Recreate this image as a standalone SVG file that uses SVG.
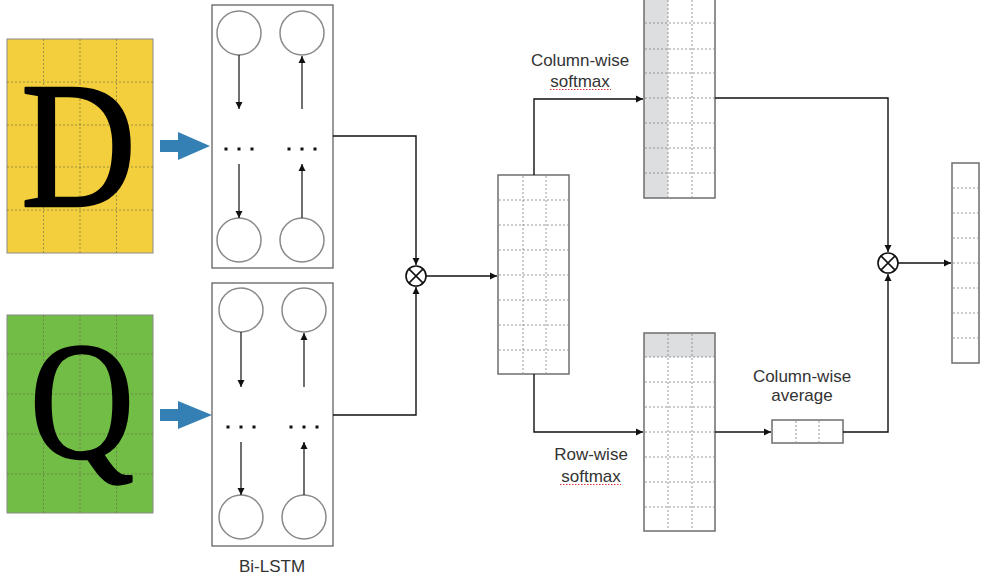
<svg xmlns="http://www.w3.org/2000/svg" width="982" height="581" viewBox="0 0 982 581">
<defs>
<marker id="ah" markerWidth="8" markerHeight="8" refX="7" refY="4" orient="auto" markerUnits="userSpaceOnUse">
<path d="M0,0.5 L7,4 L0,7.5 Z" fill="#111"/>
</marker>
<style>
.conn{fill:none;stroke:#111;stroke-width:1.4}
.mat{fill:#fff;stroke:#6e6e6e;stroke-width:1.5}
.grid{stroke:#8c8c8c;stroke-width:0.9;stroke-dasharray:2 2;fill:none}
.lgrid{stroke:#6a6a4a;stroke-width:0.9;stroke-dasharray:2 2;fill:none;opacity:0.7}
.box{fill:#fff;stroke:#555;stroke-width:1.2}
.cell{fill:#fff;stroke:#8a8a8a;stroke-width:1.5}
.lar{stroke:#222;stroke-width:1.3;fill:none}
.dot{fill:#111}
.lbl{font-family:"Liberation Sans",Arial,sans-serif;font-size:17px;fill:#333;text-anchor:middle}
.big{font-family:"Liberation Serif","Times New Roman",serif;fill:#000;stroke:#000;stroke-width:2.5;stroke-linejoin:round}
.blue{fill:#3480b5}
.ox{fill:#fff;stroke:#111;stroke-width:1.6}
.sq{stroke:#e0303a;stroke-width:1.2;stroke-dasharray:1.5 1.5;fill:none}
</style>
</defs>

<g id="D">
<rect x="7" y="39" width="146" height="214" fill="#f3cf3d" stroke="#8a8a8a" stroke-width="1"/>
<path class="lgrid" d="M43.5,39V253M80,39V253M116.5,39V253M7,82H153M7,125H153M7,167H153M7,210H153"/>
<text class="big" x="21" y="206" font-size="180" textLength="115" lengthAdjust="spacingAndGlyphs">D</text>
</g>
<g id="Q">
<rect x="7" y="315" width="146" height="198" fill="#72bd46" stroke="#8a8a8a" stroke-width="1"/>
<path class="lgrid" d="M43.5,315V513M80,315V513M116.5,315V513M7,354H153M7,394H153M7,434H153M7,474H153"/>
<text class="big" x="30" y="457" font-size="168" textLength="104" lengthAdjust="spacingAndGlyphs">Q</text>
</g>

<g id="arrowD"><polygon class="blue" points="160,140 178,140 178,132 210,146 178,160 178,152 160,152"/></g>
<g id="arrowQ"><polygon class="blue" points="160,409 178,409 178,401 212,415 178,429 178,421 160,421"/></g>

<g id="lstmTop">
<rect class="box" x="212" y="5" width="121" height="263"/>
<circle class="cell" cx="239" cy="33" r="22"/>
<circle class="cell" cx="302" cy="33" r="22"/>
<circle class="cell" cx="239" cy="240" r="22"/>
<circle class="cell" cx="302" cy="240" r="22"/>
<line class="lar" x1="239" y1="55" x2="239" y2="109" marker-end="url(#ah)"/>
<line class="lar" x1="239" y1="164" x2="239" y2="218" marker-end="url(#ah)"/>
<line class="lar" x1="302" y1="109" x2="302" y2="56" marker-end="url(#ah)"/>
<line class="lar" x1="302" y1="218" x2="302" y2="164" marker-end="url(#ah)"/>
<rect class="dot" x="224.5" y="147.5" width="3" height="3"/>
<rect class="dot" x="237.5" y="147.5" width="3" height="3"/>
<rect class="dot" x="250.5" y="147.5" width="3" height="3"/>
<rect class="dot" x="287.5" y="147.5" width="3" height="3"/>
<rect class="dot" x="300.5" y="147.5" width="3" height="3"/>
<rect class="dot" x="313.5" y="147.5" width="3" height="3"/>
</g>

<g id="lstmBottom">
<rect class="box" x="212" y="283" width="121" height="263"/>
<circle class="cell" cx="241" cy="310" r="22"/>
<circle class="cell" cx="304" cy="310" r="22"/>
<circle class="cell" cx="241" cy="517" r="22"/>
<circle class="cell" cx="304" cy="517" r="22"/>
<line class="lar" x1="241" y1="332" x2="241" y2="387" marker-end="url(#ah)"/>
<line class="lar" x1="241" y1="442" x2="241" y2="495" marker-end="url(#ah)"/>
<line class="lar" x1="304" y1="387" x2="304" y2="333" marker-end="url(#ah)"/>
<line class="lar" x1="304" y1="495" x2="304" y2="442" marker-end="url(#ah)"/>
<rect class="dot" x="226.5" y="425.5" width="3" height="3"/>
<rect class="dot" x="239.5" y="425.5" width="3" height="3"/>
<rect class="dot" x="252.5" y="425.5" width="3" height="3"/>
<rect class="dot" x="289.5" y="425.5" width="3" height="3"/>
<rect class="dot" x="302.5" y="425.5" width="3" height="3"/>
<rect class="dot" x="315.5" y="425.5" width="3" height="3"/>
<text class="lbl" x="272" y="572">Bi-LSTM</text>
</g>

<g id="otimes1">
<circle class="ox" cx="416" cy="276" r="10"/>
<path d="M408.9,268.9L423.1,283.1M423.1,268.9L408.9,283.1" stroke="#111" stroke-width="1.5"/>
</g>

<g id="simMatrix">
<rect class="mat" x="498" y="175" width="71" height="199"/>
<path class="grid" d="M523,176V373M546,176V373M499,200H568M499,225H568M499,250H568M499,275H568M499,300H568M499,325H568M499,350H568"/>
</g>

<g id="colSoftmax">
<rect x="644" y="-2" width="24" height="200" fill="#dddee0"/>
<rect class="mat" x="644" y="-2" width="71" height="200" style="fill:none"/>
<path class="grid" d="M668,0V197M692,0V197M645,23H714M645,49H714M645,73H714M645,98H714M645,123H714M645,148H714M645,173H714"/>
</g>

<g id="rowSoftmax">
<rect x="644" y="333" width="71" height="24" fill="#dddee0"/>
<rect class="mat" x="644" y="333" width="71" height="198" style="fill:none"/>
<path class="grid" d="M668,334V530M692,334V530M645,357H714M645,382H714M645,407H714M645,432H714M645,457H714M645,482H714M645,507H714"/>
</g>

<g id="colAverage">
<rect class="mat" x="772" y="420" width="71" height="23"/>
<path class="grid" d="M796,421V442M819,421V442"/>
</g>

<g id="otimes2">
<circle class="ox" cx="888" cy="263" r="10"/>
<path d="M880.9,255.9L895.1,270.1M895.1,255.9L880.9,270.1" stroke="#111" stroke-width="1.5"/>
</g>

<g id="output">
<rect class="mat" x="952" y="163" width="27" height="200"/>
<path class="grid" d="M953,188H978M953,213H978M953,238H978M953,263H978M953,288H978M953,313H978M953,338H978"/>
</g>

<g id="connectors">
<polyline class="conn" points="333,136 416,136 416,265" marker-end="url(#ah)"/>
<polyline class="conn" points="333,415 416,415 416,287" marker-end="url(#ah)"/>
<line class="conn" x1="426" y1="276" x2="497" y2="276" marker-end="url(#ah)"/>
<polyline class="conn" points="534,175 534,99 643,99" marker-end="url(#ah)"/>
<polyline class="conn" points="534,374 534,432 643,432" marker-end="url(#ah)"/>
<polyline class="conn" points="715,98 888,98 888,252" marker-end="url(#ah)"/>
<line class="conn" x1="715" y1="432" x2="771" y2="432" marker-end="url(#ah)"/>
<polyline class="conn" points="843,432 888,432 888,274" marker-end="url(#ah)"/>
<line class="conn" x1="898" y1="263" x2="951" y2="263" marker-end="url(#ah)"/>
</g>

<g id="labels">
<text class="lbl" x="580" y="66">Column-wise</text>
<text class="lbl" x="580" y="87">softmax</text>
<path class="sq" d="M550,89.5H611"/>
<text class="lbl" x="591" y="460">Row-wise</text>
<text class="lbl" x="591" y="482">softmax</text>
<path class="sq" d="M560,484.5H621"/>
<text class="lbl" x="802" y="382">Column-wise</text>
<text class="lbl" x="802" y="401">average</text>
</g>
</svg>
